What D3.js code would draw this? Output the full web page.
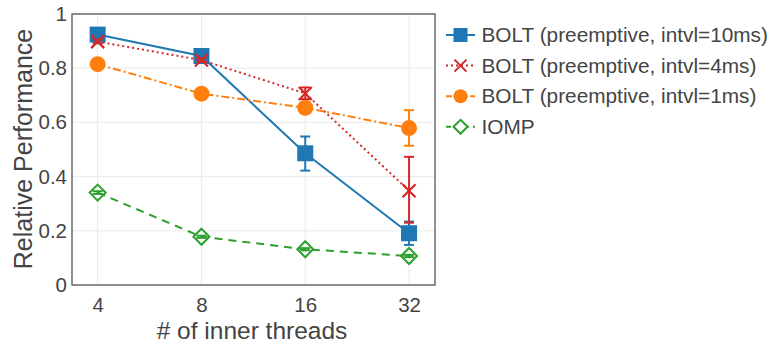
<!DOCTYPE html>
<html><head><meta charset="utf-8">
<script src="https://cdn.jsdelivr.net/npm/d3@7"></script>
<style>body{margin:0;background:#fff}svg{display:block}text{font-family:"Liberation Sans",Arial,sans-serif;fill:#444}</style>
</head><body><svg id="c" width="774" height="345"></svg>
<script>
const threads = [4, 8, 16, 32];
const seriesNames = ["BOLT (preemptive, intvl=10ms)", "BOLT (preemptive, intvl=4ms)", "BOLT (preemptive, intvl=1ms)", "IOMP"];
const bolt10 = [0.924, 0.845, 0.486, 0.191];
const bolt10Lo = [0.918, 0.838, 0.422, 0.148];
const bolt10Hi = [0.930, 0.852, 0.548, 0.234];
const bolt4 = [0.898, 0.830, 0.707, 0.348];
const bolt4Lo = [0.892, 0.824, 0.686, 0.230];
const bolt4Hi = [0.905, 0.836, 0.729, 0.473];
const bolt1 = [0.815, 0.706, 0.654, 0.579];
const bolt1Lo = [0.812, 0.703, 0.650, 0.514];
const bolt1Hi = [0.818, 0.709, 0.658, 0.645];
const iomp = [0.341, 0.178, 0.132, 0.107];
const iompLo = [0.336, 0.174, 0.128, 0.103];
const iompHi = [0.346, 0.182, 0.136, 0.111];
const yTicks = [0, 0.2, 0.4, 0.6, 0.8, 1];

const colors = ["#1f77b4", "#d62728", "#ff7f0e", "#2ca02c"];
const dashes = [null, "2,3", "8,3,2,3", "8,6"];
const legendDashes = [null, "2,3", "6,2,2,2", "5,4"];
const markers = ["square", "x", "circle", "diamond"];
const vals = [bolt10, bolt4, bolt1, iomp];
const los = [bolt10Lo, bolt4Lo, bolt1Lo, iompLo];
const his = [bolt10Hi, bolt4Hi, bolt1Hi, iompHi];

const svg = d3.select("#c");
const L = 72, R = 435, T = 14, B = 285;
const x = d3.scaleLog().base(2).domain([4 / Math.pow(2, 0.247), 32 * Math.pow(2, 0.25)]).range([L, R]);
const y = d3.scaleLinear().domain([0, 1]).range([B, T]);

// grid
svg.append("g").selectAll("line").data(yTicks).join("line")
  .attr("x1", L).attr("x2", R).attr("y1", d => y(d)).attr("y2", d => y(d))
  .attr("stroke", "#ebebeb").attr("stroke-width", 1);
svg.append("g").selectAll("line").data(threads).join("line")
  .attr("x1", d => x(d)).attr("x2", d => x(d)).attr("y1", T).attr("y2", B)
  .attr("stroke", "#ebebeb").attr("stroke-width", 1);

// axes
const yAxis = d3.axisLeft(y).tickValues(yTicks).tickFormat(d => d === 0 || d === 1 ? d3.format("d")(d) : d3.format(".1f")(d)).tickSize(0).tickPadding(5);
const gy = svg.append("g").attr("transform", `translate(${L},0)`).call(yAxis);
gy.select(".domain").remove();
gy.selectAll("text").attr("font-size", 20.5).attr("fill", "#444").attr("font-family", "Liberation Sans, Arial, sans-serif");
const xAxis = d3.axisBottom(x).tickValues(threads).tickFormat(d3.format("d")).tickSize(0).tickPadding(12);
const gx = svg.append("g").attr("transform", `translate(0,${B})`).call(xAxis);
gx.select(".domain").remove();
gx.selectAll("text").attr("font-size", 20.5).attr("fill", "#444").attr("font-family", "Liberation Sans, Arial, sans-serif");

svg.append("rect").attr("x", L).attr("y", T).attr("width", R - L).attr("height", B - T)
  .attr("fill", "none").attr("stroke", "#555").attr("stroke-width", 1.3);

svg.append("text").attr("x", 252).attr("y", 338.5).attr("text-anchor", "middle")
  .attr("font-size", 24.5).text("# of inner threads");
svg.append("text").attr("transform", `translate(32,149) rotate(-90)`).attr("text-anchor", "middle")
  .attr("font-size", 25).text("Relative Performance");

function drawMarker(g, type, cx, cy, color) {
  if (type === "square") {
    g.append("rect").attr("x", cx - 8).attr("y", cy - 8).attr("width", 16).attr("height", 16).attr("fill", color);
  } else if (type === "circle") {
    g.append("circle").attr("cx", cx).attr("cy", cy).attr("r", 8).attr("fill", color);
  } else if (type === "x") {
    const s = 6.5;
    g.append("path").attr("d", `M${cx - s},${cy - s}L${cx + s},${cy + s}M${cx - s},${cy + s}L${cx + s},${cy - s}`)
      .attr("stroke", color).attr("stroke-width", 2.2).attr("fill", "none");
  } else if (type === "diamond") {
    const s = 8;
    g.append("path").attr("d", `M${cx},${cy - s}L${cx + s},${cy}L${cx},${cy + s}L${cx - s},${cy}Z`)
      .attr("stroke", color).attr("stroke-width", 2).attr("fill", "none");
  }
}

const line = d3.line().x(d => x(d[0])).y(d => y(d[1]));
vals.forEach((v, i) => {
  const g = svg.append("g");
  const pts = threads.map((t, j) => [t, v[j]]);
  g.append("path").attr("d", line(pts)).attr("fill", "none").attr("stroke", colors[i])
    .attr("stroke-width", 2).attr("stroke-dasharray", dashes[i]);
  threads.forEach((t, j) => {
    const cx = x(t);
    g.append("line").attr("x1", cx).attr("x2", cx).attr("y1", y(los[i][j])).attr("y2", y(his[i][j]))
      .attr("stroke", colors[i]).attr("stroke-width", 2);
    [los[i][j], his[i][j]].forEach(e => g.append("line").attr("x1", cx - 5).attr("x2", cx + 5)
      .attr("y1", y(e)).attr("y2", y(e)).attr("stroke", colors[i]).attr("stroke-width", 2));
  });
  threads.forEach((t, j) => drawMarker(g, markers[i], x(t), y(v[j]), colors[i]));
});

// legend
const lg = svg.append("g");
seriesNames.forEach((n, i) => {
  const ly = 35 + i * 30.6;
  const mx = 460.5;
  lg.append("line").attr("x1", 446).attr("x2", 475).attr("y1", ly).attr("y2", ly)
    .attr("stroke", colors[i]).attr("stroke-width", 2).attr("stroke-dasharray", legendDashes[i]);
  if (markers[i] === "square") lg.append("rect").attr("x", mx - 7).attr("y", ly - 7).attr("width", 14).attr("height", 14).attr("fill", colors[i]);
  else if (markers[i] === "circle") lg.append("circle").attr("cx", mx).attr("cy", ly).attr("r", 7).attr("fill", colors[i]);
  else if (markers[i] === "x") lg.append("path").attr("d", `M${mx - 6},${ly - 6}L${mx + 6},${ly + 6}M${mx - 6},${ly + 6}L${mx + 6},${ly - 6}`).attr("stroke", colors[i]).attr("stroke-width", 2);
  else lg.append("path").attr("d", `M${mx},${ly - 7}L${mx + 7},${ly}L${mx},${ly + 7}L${mx - 7},${ly}Z`).attr("stroke", colors[i]).attr("stroke-width", 2).attr("fill", "#fff");
  lg.append("text").attr("x", 481.5).attr("y", ly + 7).attr("font-size", 20.8).text(n);
});
</script></body></html>
